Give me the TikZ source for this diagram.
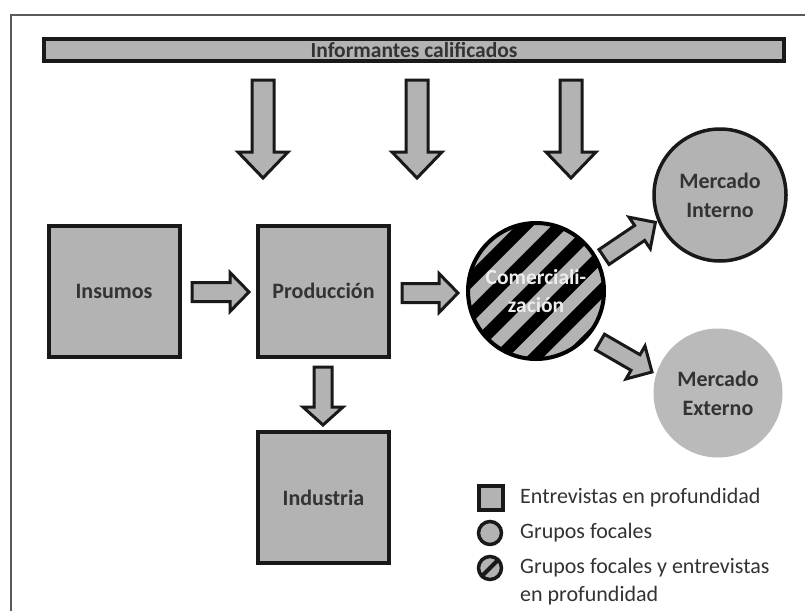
\documentclass[tikz,border=0pt]{standalone}
\usepackage{fontspec}
\setmainfont{Carlito}
\usetikzlibrary{calc}
\definecolor{boxgray}{RGB}{179,179,179}
\definecolor{lightgray2}{RGB}{186,186,186}
\definecolor{txt}{RGB}{51,51,51}
\definecolor{framec}{RGB}{90,90,90}
\tikzset{
  boxlabel/.style={font=\bfseries\fontsize{22}{29}\selectfont, text=txt, align=center},
  sqbox/.style={rectangle, draw=black!90, line width=4pt, fill=boxgray, minimum width=131pt, minimum height=131pt, boxlabel},
  arrowline/.style={draw=black!90, line width=3pt, fill=boxgray, line join=miter},
  pics/barrow/.style n args={4}{code={
    \draw[arrowline] (0,-#2) -- ({#1-#4},-#2) -- ({#1-#4},-#3) -- (#1,0) -- ({#1-#4},#3) -- ({#1-#4},#2) -- (0,#2) -- cycle;}},
  legtext/.style={anchor=west, inner sep=0pt, font=\fontsize{22}{28}\selectfont, text=txt, align=left},
}
\begin{document}
\begin{tikzpicture}[x=1pt, y=-1pt]
\useasboundingbox (0,0) rectangle (805,610);
\fill[white] (0,0) rectangle (805,610);
% frame (cut off on the right and bottom)
\draw[framec, line width=2pt] (11,612) -- (11,15) -- (807,15);

% top bar
\node[rectangle, draw=black!90, line width=4pt, fill=boxgray, minimum width=740pt, minimum height=22pt, inner sep=0pt,
      font=\bfseries\fontsize{21.5}{24}\selectfont, text=txt] (inf) at (414,50) {Informantes calificados};

% boxes
\node[sqbox] (ins) at (114,291) {Insumos};
\node[sqbox] (prod) at (323.5,291) {Producción};
\node[sqbox] (ind) at (323.5,497.5) {Industria};

% hatched circle
\coordinate (comc) at (536,291);
\begin{scope}
  \clip (comc) circle (68);
  \fill[black] (comc) circle (68);
  \foreach \k in {-4,...,4}{
    \draw[boxgray, line width=12.5pt] ([shift={(\k*17.7+6,\k*17.7+6)}]comc) ++(-110,110) -- ++(220,-220);
  }
\end{scope}
\node[circle, draw=black, line width=4pt, minimum size=136pt, inner sep=0pt,
      font=\bfseries\fontsize{21.5}{28}\selectfont, text=white!93!black, align=center] (com) at (comc) {Comerciali-\\zación};

% markets
\node[circle, draw=black!90, line width=3.5pt, fill=boxgray, minimum size=132pt, inner sep=0pt, boxlabel] (mi) at (720,195) {Mercado\\Interno};
\node[circle, fill=lightgray2, minimum size=129pt, inner sep=0pt, boxlabel] (me) at (718,393) {Mercado\\Externo};

% arrows from top bar
\coordinate (d1) at (263,80);
\coordinate (d2) at (417,80);
\coordinate (d3) at (571,80);
\pic[rotate=-90] at (d1) {barrow={98}{11}{25}{26}};
\pic[rotate=-90] at (d2) {barrow={98}{11}{25}{26}};
\pic[rotate=-90] at (d3) {barrow={98}{11}{25}{26}};

% flow arrows
\coordinate (a1) at (192,292);
\coordinate (a2) at (402,293);
\coordinate (a3) at (323,367);
\coordinate (a4) at (604,257);
\coordinate (a5) at (600,342);
\pic at (a1) {barrow={57}{9.5}{19.5}{19}};
\pic at (a2) {barrow={56}{9.5}{19.5}{19}};
\pic[rotate=-90] at (a3) {barrow={58}{9}{20}{18}};
\pic[rotate=34] at (a4) {barrow={62}{9}{19}{19}};
\pic[rotate=-30] at (a5) {barrow={60}{9}{19}{19}};

% legend
\node[rectangle, draw=black!90, line width=3.5pt, fill=boxgray, minimum size=24pt, inner sep=0pt] (l1) at (491,498) {};
\node[circle, draw=black!90, line width=3.5pt, fill=boxgray, minimum size=23pt, inner sep=0pt] (l2) at (490,533) {};
\node[circle, draw=black!90, line width=3.5pt, fill=boxgray, minimum size=23pt, inner sep=0pt] (l3) at (490,568) {};
\draw[black!90, line width=4pt] (l3.south west) -- (l3.north east);
\node[legtext] (t1) at (520,498) {Entrevistas en profundidad};
\node[legtext] (t2) at (520,533) {Grupos focales};
\node[legtext] (t3) at (520,581.5) {Grupos focales y entrevistas\\en profundidad};
\end{tikzpicture}
\end{document}
